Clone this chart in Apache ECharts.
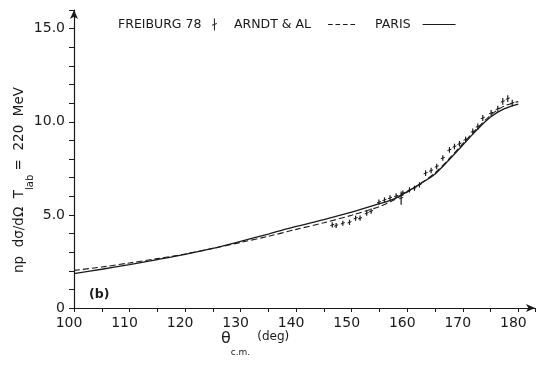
<!DOCTYPE html>
<html>
<head>
<meta charset="utf-8">
<script src="https://cdn.jsdelivr.net/npm/echarts@6/dist/echarts.min.js"></script>
<style>
html,body{margin:0;padding:0;background:#fff;}
#chart{width:539px;height:368px;}
</style>
</head>
<body>
<div id="chart"></div>
<script>
// ---- data ----
const curveTheta = [100,105,110,115,120,125,130,135,140,145,150,155,157.5,160,162.5,165,167.5,170,172.5,175,177.5,180];
const parisValues = [1.85,2.08,2.33,2.6,2.88,3.2,3.58,3.97,4.38,4.75,5.15,5.6,5.85,6.25,6.7,7.2,7.95,8.75,9.55,10.25,10.7,10.95];
const arndtValues = [2.02,2.2,2.42,2.65,2.9,3.2,3.52,3.85,4.22,4.58,4.98,5.45,5.78,6.22,6.7,7.25,8.0,8.82,9.62,10.35,10.85,11.08];

const freiburgTheta = [146.5,147.2,148.4,149.6,150.7,151.5,152.7,153.5,154.9,155.9,156.9,158.0,158.9,159.2,160.4,161.3,162.2,163.3,164.3,165.3,166.4,167.6,168.5,169.4,170.5,171.8,172.7,173.6,175.1,176.3,177.2,178.1,178.9];
const freiburgValues = [4.46,4.43,4.55,4.6,4.82,4.82,5.09,5.2,5.68,5.8,5.91,6.02,5.9,6.17,6.34,6.43,6.61,7.24,7.38,7.6,8.05,8.49,8.67,8.82,9.05,9.48,9.75,10.2,10.47,10.7,11.09,11.24,11.0];
const freiburgErrors = [0.14,0.14,0.14,0.14,0.14,0.14,0.14,0.14,0.14,0.14,0.14,0.14,0.35,0.14,0.14,0.14,0.14,0.15,0.15,0.15,0.15,0.15,0.15,0.15,0.15,0.16,0.16,0.16,0.16,0.16,0.18,0.18,0.18];

const xTickLabels = [100,110,120,130,140,150,160,170,180];
const yTickLabels = {0:'0',5:'5.0',10:'10.0',15:'15.0'};

const seriesNames = ['FREIBURG 78','ARNDT & AL','PARIS'];

// ---- build ----
const ink = '#1a1a1a';
const font = 'DejaVu Sans';
const pairs = (xs, ys) => xs.map((x,i)=>[x, ys[i]]);
const freiburgData = freiburgTheta.map((t,i)=>[t, freiburgValues[i], freiburgErrors[i]]);

const chart = echarts.init(document.getElementById('chart'), null, {renderer:'canvas'});
chart.setOption({
  backgroundColor:'#fff',
  animation:false,
  grid:{left:74,right:4,top:10,bottom:60,containLabel:false},
  title:{text:'(b)',left:89,top:288,padding:0,textStyle:{fontSize:12.5,fontWeight:'bold',color:ink,fontFamily:font}},
  legend:[
    {left:118,top:18,padding:0,itemWidth:16,itemHeight:12,textStyle:{fontSize:12.5,color:ink,fontFamily:font},align:'right',selectedMode:false,
     data:[{name:seriesNames[0],icon:'path://M4.2,0h1.6v20h-1.6z M1,10.5 L9,7.5 L9,9 L1,12z'}]},
    {left:234,top:18,padding:0,itemWidth:27,itemHeight:10,textStyle:{fontSize:12.5,color:ink,fontFamily:font,padding:[0,12,0,0]},align:'right',selectedMode:false,
     data:[{name:seriesNames[1],icon:'path://M0,0h5v1.2h-5z M8,0h5v1.2h-5z M16,0h5v1.2h-5z M24,0h5v1.2h-5z'}]},
    {left:375,top:18,padding:0,itemWidth:33,itemHeight:10,textStyle:{fontSize:12.5,color:ink,fontFamily:font,padding:[0,7,0,0]},align:'right',selectedMode:false,
     data:[{name:seriesNames[2],icon:'path://M0,0h35v1.3h-35z'}]}
  ],
  xAxis:{
    type:'value',min:100,max:183,interval:5,
    axisLine:{show:true,onZero:false,symbol:['none','arrow'],symbolSize:[6,9],lineStyle:{color:ink,width:1.2}},
    axisTick:{show:true,length:4,lineStyle:{color:ink}},
    splitLine:{show:false},
    axisLabel:{color:ink,fontSize:14,fontFamily:font,margin:8,padding:[0,10,0,0],
      formatter:v=>xTickLabels.indexOf(v)>=0?String(v):''}
  },
  yAxis:{
    type:'value',min:0,max:16,interval:1,
    axisLine:{show:true,onZero:false,symbol:['none','arrow'],symbolSize:[6,9],lineStyle:{color:ink,width:1.2}},
    axisTick:{show:true,length:5,lineStyle:{color:ink}},
    splitLine:{show:false},
    axisLabel:{color:ink,fontSize:14,fontFamily:font,margin:9,
      formatter:v=>yTickLabels[v]!==undefined?yTickLabels[v]:''}
  },
  graphic:[
    {type:'text',x:24,y:180,rotation:Math.PI/2,silent:true,
     style:{text:'{a|np  dσ/dΩ  T}{s|lab}{a| =  220  MeV}',align:'center',verticalAlign:'middle',
       rich:{a:{fontSize:13.5,fontFamily:font,fill:ink,lineHeight:14,verticalAlign:'top'},
             s:{fontSize:10,fontFamily:font,fill:ink,lineHeight:23,verticalAlign:'bottom'}}}},
    {type:'text',x:221,y:331,silent:true,
     style:{text:'{t|θ}{s|c.m.}{d|(deg)}',align:'left',verticalAlign:'top',
       rich:{t:{fontSize:16,fontFamily:font,fill:ink,lineHeight:16,verticalAlign:'top'},
             s:{fontSize:9,fontFamily:font,fill:ink,lineHeight:26,verticalAlign:'bottom'},
             d:{fontSize:12,fontFamily:font,fill:ink,lineHeight:16,verticalAlign:'top',padding:[0,0,0,7]}}}}
  ],
  series:[
    {name:seriesNames[0],type:'custom',data:freiburgData,itemStyle:{color:ink},
     encode:{x:0,y:1},
     renderItem:function(params, api){
       const x=api.value(0), y=api.value(1), e=api.value(2);
       const top=api.coord([x,y+e]), bot=api.coord([x,y-e]), c=api.coord([x,y]);
       return {type:'group',children:[
         {type:'line',shape:{x1:top[0],y1:top[1],x2:bot[0],y2:bot[1]},style:{stroke:ink,lineWidth:1.2}},
         {type:'line',shape:{x1:c[0]-2,y1:c[1]+0.7,x2:c[0]+2,y2:c[1]-0.7},style:{stroke:ink,lineWidth:1}}
       ]};
     }},
    {name:seriesNames[1],type:'line',data:pairs(curveTheta,arndtValues),smooth:0.3,symbol:'none',
     lineStyle:{color:ink,width:1.1,type:[6,3]},itemStyle:{color:ink}},
    {name:seriesNames[2],type:'line',data:pairs(curveTheta,parisValues),smooth:0.3,symbol:'none',
     lineStyle:{color:ink,width:1.3},itemStyle:{color:ink}}
  ]
});
</script>
</body>
</html>
